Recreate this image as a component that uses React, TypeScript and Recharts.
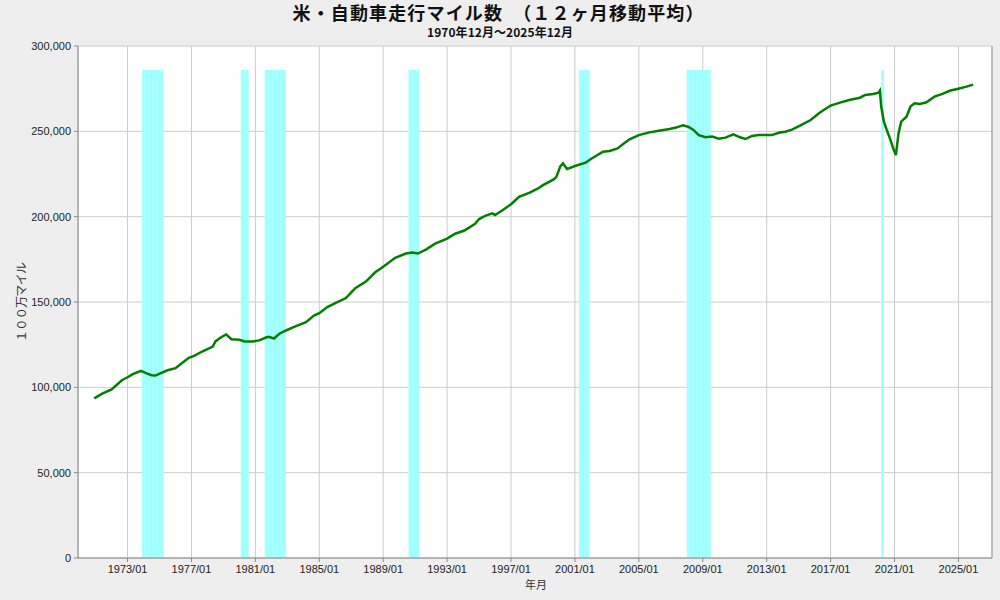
import React from 'react'
import { LineChart, Line, XAxis, YAxis, CartesianGrid, ReferenceArea } from 'recharts'

// 12ヶ月移動平均 (100万マイル)
const months: string[] = [
  '1970/12', '1971/06', '1972/01', '1972/09', '1973/01', '1973/05', '1973/11', '1974/03', '1974/07', '1974/10',
  '1975/02', '1975/07', '1976/01', '1976/05', '1976/11', '1977/03', '1977/09', '1978/05', '1978/07', '1978/11',
  '1979/03', '1979/07', '1980/01', '1980/05', '1980/11', '1981/04', '1981/09', '1981/11', '1982/03', '1982/07',
  '1982/12', '1983/07', '1984/03', '1984/09', '1985/01', '1985/07', '1986/01', '1986/09', '1987/04', '1987/12',
  '1988/07', '1989/01', '1989/10', '1990/06', '1990/11', '1991/03', '1991/09', '1992/04', '1993/01', '1993/07',
  '1994/02', '1994/10', '1995/01', '1995/06', '1995/11', '1996/01', '1996/06', '1997/01', '1997/07', '1998/03',
  '1998/09', '1999/01', '1999/09', '1999/11', '2000/02', '2000/04', '2000/07', '2001/01', '2001/09', '2002/01',
  '2002/10', '2003/03', '2003/09', '2004/02', '2004/06', '2005/01', '2005/09', '2006/04', '2006/12', '2007/05',
  '2007/10', '2008/02', '2008/06', '2008/10', '2009/03', '2009/08', '2010/01', '2010/06', '2010/12', '2011/05',
  '2011/09', '2012/02', '2012/07', '2013/05', '2013/10', '2014/03', '2014/08', '2015/02', '2015/10', '2016/05',
  '2017/01', '2017/08', '2018/03', '2018/11', '2019/03', '2019/09', '2020/01', '2020/02', '2020/03', '2020/05',
  '2020/07', '2020/10', '2020/12', '2021/02', '2021/04', '2021/06', '2021/10', '2022/01', '2022/04', '2022/08',
  '2023/01', '2023/07', '2024/01', '2024/07', '2025/01', '2025/07', '2025/12',
]

const miles: number[] = [
  93500, 96300, 98800, 104300, 105900, 107700, 109600, 108300, 107100, 106900,
  108300, 110000, 111200, 113700, 117300, 118400, 121000, 123900, 126900, 129200,
  131000, 128200, 127900, 126900, 126900, 127500, 129200, 129600, 128600, 131400,
  133300, 135700, 138200, 142000, 143400, 147000, 149400, 152300, 158100, 162000,
  167400, 170700, 175900, 178400, 179000, 178400, 180700, 184200, 187100, 190000,
  191900, 195800, 198600, 200600, 201900, 201000, 203500, 207300, 211600, 214100,
  216400, 218500, 221800, 223200, 229500, 231300, 227900, 229700, 231600, 233800,
  238100, 238500, 240000, 243000, 245300, 247800, 249400, 250400, 251400, 252200,
  253500, 252700, 250800, 247800, 246500, 246900, 245700, 246300, 248200, 246500,
  245500, 247300, 247800, 247800, 249200, 249800, 251000, 253300, 256600, 261000,
  265100, 266800, 268400, 269700, 271300, 271900, 272700, 273900, 264500, 255700,
  251200, 244900, 240000, 236100, 248800, 255700, 258600, 264500, 266400, 266000,
  267000, 270300, 271900, 273900, 275000, 276200, 277400,
]

// 景気後退期 (first month, last month)
const recessionStart: string[] = ['1973/12', '1980/02', '1981/08', '1990/08', '2001/04', '2008/01', '2020/03']
const recessionEnd: string[] = ['1975/03', '1980/07', '1982/11', '1991/03', '2001/11', '2009/06', '2020/04']
const recessionTop = 286000

const xTickYears: number[] = [1973, 1977, 1981, 1985, 1989, 1993, 1997, 2001, 2005, 2009, 2013, 2017, 2021, 2025]
const yTicks: number[] = [0, 50000, 100000, 150000, 200000, 250000, 300000]
const yMinorTicks: number[] = Array.from({ length: 31 }, (_, i) => i * 10000)

const toT = (m: string) => {
  const [y, mo] = m.split('/').map(Number)
  return y + (mo - 1) / 12
}

const data = months.map((m, i) => ({ t: toT(m), v: miles[i] }))

const TICK_FONT = '"Liberation Sans", Arial, sans-serif'
const JP_FONT = '"Noto Sans CJK JP", "Noto Sans", sans-serif'

if (typeof document !== 'undefined') {
  document.body.style.margin = '0'
}

const NoLabel = () => <g />

export default function App() {
  return (
    <div style={{ position: 'relative', width: 1000, height: 600, background: '#eeeeee' }}>
      <svg width={0} height={0} style={{ position: 'absolute' }}>
        <defs>
          <pattern id="stripe" width={4 / 3} height={10} patternUnits="userSpaceOnUse">
            <rect x={0} y={0} width={4 / 3} height={10} fill="#99ffff" />
            <rect x={0} y={0} width={0.45} height={10} fill="#b5ffff" />
          </pattern>
        </defs>
      </svg>
      <LineChart width={1000} height={600} data={data} margin={{ top: 46, right: 0, bottom: 12, left: 0 }}>
        <CartesianGrid stroke="#cccccc" fill="#ffffff" />
        <XAxis
          dataKey="t"
          type="number"
          domain={[1969.9, 2027.1]}
          ticks={xTickYears}
          tickFormatter={(t: number) => `${Math.round(t)}/01`}
          tick={{ fill: '#222', fontSize: 11, fontFamily: TICK_FONT }}
          tickSize={4}
          tickMargin={3}
          stroke="#888"
          height={30}
          allowDataOverflow
        />
        <YAxis
          type="number"
          domain={[0, 300000]}
          ticks={yTicks}
          tickFormatter={(v: number) => v.toLocaleString('en-US')}
          tick={{ fill: '#222', fontSize: 11, fontFamily: TICK_FONT }}
          tickSize={4}
          tickMargin={3}
          stroke="#888"
          width={78}
        />
        <YAxis
          yAxisId="r"
          orientation="right"
          type="number"
          domain={[0, 300000]}
          ticks={yMinorTicks}
          tick={<NoLabel />}
          tickLine={{ stroke: '#999' }}
          tickSize={3}
          stroke="#999"
          width={8}
        />
        {recessionStart.map((s, i) => (
          <ReferenceArea
            key={s}
            x1={toT(s)}
            x2={toT(recessionEnd[i]) + 1 / 12}
            y1={0}
            y2={recessionTop}
            fill="url(#stripe)"
            fillOpacity={1}
            stroke="none"
          />
        ))}
        <Line type="linear" dataKey="v" stroke="#008000" strokeWidth={2.5} dot={false} isAnimationActive={false} />
      </LineChart>
      <svg width={1000} height={600} style={{ position: 'absolute', left: 0, top: 0, pointerEvents: 'none' }}>
        <text x={498} y={20} textAnchor="middle" fontSize={18} fontWeight="bold" fontFamily={JP_FONT} fill="#111" textLength={411} lengthAdjust="spacing">
          米・自動車走行マイル数　（１２ヶ月移動平均）
        </text>
        <text x={500} y={37} textAnchor="middle" fontSize={12} fontWeight="bold" fontFamily={JP_FONT} fill="#111" textLength={146} lengthAdjust="spacing">
          1970年12月～2025年12月
        </text>
        <text x={536} y={589} textAnchor="middle" fontSize={11} fontFamily={JP_FONT} fill="#333">
          年月
        </text>
        <text
          x={0}
          y={0}
          transform="translate(26,302) rotate(-90)"
          textAnchor="middle"
          fontSize={12}
          fontFamily={JP_FONT}
          fill="#333"
          textLength={80}
          lengthAdjust="spacing"
        >
          １００万マイル
        </text>
      </svg>
    </div>
  )
}
